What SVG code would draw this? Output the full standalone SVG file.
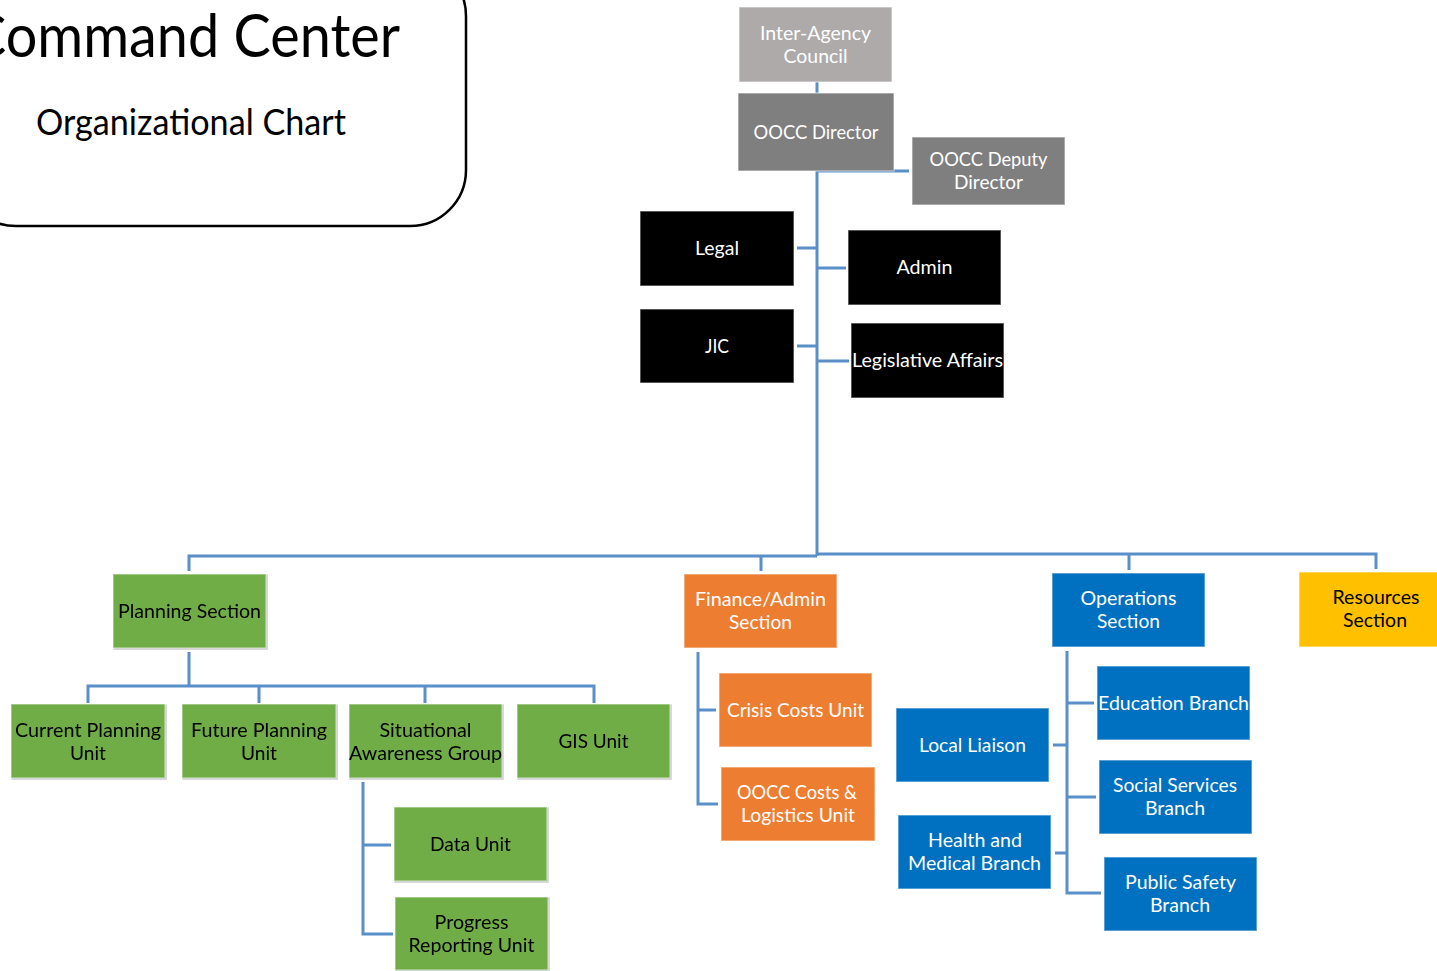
<svg xmlns="http://www.w3.org/2000/svg" width="1437" height="971" viewBox="0 0 1437 971">
<defs>
<style>
.box{stroke:#ffffff;stroke-opacity:0.45;stroke-width:1.5}
.gray1{fill:#ADAAA9}
.gray2{fill:#7F7F7F}
.blk{fill:#000000}
.grn{fill:#70AD47}
.org{fill:#ED7D31}
.blu{fill:#0070C0}
.yel{fill:#FFC000}
.t{font-family:Lato,"Open Sans","Liberation Sans",sans-serif;font-size:19px;text-anchor:middle}
.w{fill:#ffffff}
.k{fill:#000000}
.conn{fill:none;stroke:#5B8FC9;stroke-width:3}
</style>
<filter id="sh" x="-10%" y="-20%" width="120%" height="140%">
<feDropShadow dx="1" dy="1" stdDeviation="0.6" flood-color="#000" flood-opacity="0.45"/>
</filter>
</defs>
<rect width="1437" height="971" fill="#ffffff"/>

<g id="title">
<rect x="-40" y="-40" width="506" height="266" rx="56" ry="56" fill="#ffffff" stroke="#000" stroke-width="2.5"/>
<text x="-31" y="57" font-family="Lato,'Open Sans','Liberation Sans',sans-serif" font-size="60" textLength="431" lengthAdjust="spacingAndGlyphs">Command Center</text>
<text x="36" y="135" font-family="Lato,'Open Sans','Liberation Sans',sans-serif" font-size="37" textLength="310" lengthAdjust="spacingAndGlyphs">Organizational Chart</text>
</g>

<g id="connectors">
<path class="conn" d="M817 82 V556"/>
<path class="conn" d="M817 171 H909"/>
<path class="conn" d="M797 248 H817 M818 268 H846 M797 346 H817 M818 361 H849"/>
<path class="conn" d="M189 571 V556 H817 M817 554 H1376 V569 M761 571 V556 M1129 570 V554"/>
<path class="conn" d="M189 652 V686 M88 703 V686 H594 V703 M259 686 V703 M425 686 V703"/>
<path class="conn" d="M363 782 V934 H393 M363 845 H391"/>
<path class="conn" d="M698 652 V804 H718 M698 710 H716"/>
<path class="conn" d="M1067 651 V893 H1101 M1067 703 H1094 M1053 745 H1067 M1067 797 H1096 M1055 853 H1067"/>
</g>

<g id="inter-agency-council">
<rect class="box gray1" x="739" y="7" width="153" height="75"/>
<text class="t w" x="815.5" y="40" textLength="111" lengthAdjust="spacingAndGlyphs">Inter-Agency</text>
<text class="t w" x="815.5" y="63" textLength="64" lengthAdjust="spacingAndGlyphs">Council</text>
</g>
<g id="oocc-director">
<rect class="box gray2" x="738" y="93" width="156" height="78"/>
<text class="t w" x="816" y="139" textLength="125" lengthAdjust="spacingAndGlyphs">OOCC Director</text>
</g>
<g id="oocc-deputy-director">
<rect class="box gray2" x="912" y="137" width="153" height="68"/>
<text class="t w" x="988.5" y="166" textLength="118" lengthAdjust="spacingAndGlyphs">OOCC Deputy</text>
<text class="t w" x="988.5" y="189" textLength="69" lengthAdjust="spacingAndGlyphs">Director</text>
</g>
<g id="legal">
<rect class="box blk" x="640" y="211" width="154" height="75"/>
<text class="t w" x="717" y="255" textLength="44" lengthAdjust="spacingAndGlyphs">Legal</text>
</g>
<g id="admin">
<rect class="box blk" x="848" y="230" width="153" height="75"/>
<text class="t w" x="924.5" y="274" textLength="56" lengthAdjust="spacingAndGlyphs">Admin</text>
</g>
<g id="jic">
<rect class="box blk" x="640" y="309" width="154" height="74"/>
<text class="t w" x="717" y="353" textLength="24" lengthAdjust="spacingAndGlyphs">JIC</text>
</g>
<g id="legislative-affairs">
<rect class="box blk" x="851" y="323" width="153" height="75"/>
<text class="t w" x="927.5" y="367" textLength="151" lengthAdjust="spacingAndGlyphs">Legislative Affairs</text>
</g>

<g id="planning-section" filter="url(#sh)">
<rect class="box grn" x="113" y="574" width="153" height="74"/>
<text class="t k" x="189.5" y="618" textLength="143" lengthAdjust="spacingAndGlyphs">Planning Section</text>
</g>
<g id="current-planning-unit" filter="url(#sh)">
<rect class="box grn" x="11" y="704" width="154" height="74"/>
<text class="t k" x="88" y="737" textLength="146" lengthAdjust="spacingAndGlyphs">Current Planning</text>
<text class="t k" x="88" y="760" textLength="36" lengthAdjust="spacingAndGlyphs">Unit</text>
</g>
<g id="future-planning-unit" filter="url(#sh)">
<rect class="box grn" x="182" y="704" width="154" height="74"/>
<text class="t k" x="259" y="737" textLength="136" lengthAdjust="spacingAndGlyphs">Future Planning</text>
<text class="t k" x="259" y="760" textLength="36" lengthAdjust="spacingAndGlyphs">Unit</text>
</g>
<g id="situational-awareness-group" filter="url(#sh)">
<rect class="box grn" x="349" y="704" width="153" height="74"/>
<text class="t k" x="425.5" y="737" textLength="92" lengthAdjust="spacingAndGlyphs">Situational</text>
<text class="t k" x="425.5" y="760" textLength="153" lengthAdjust="spacingAndGlyphs">Awareness Group</text>
</g>
<g id="gis-unit" filter="url(#sh)">
<rect class="box grn" x="517" y="704" width="153" height="74"/>
<text class="t k" x="593.5" y="748" textLength="70" lengthAdjust="spacingAndGlyphs">GIS Unit</text>
</g>
<g id="data-unit" filter="url(#sh)">
<rect class="box grn" x="394" y="807" width="153" height="74"/>
<text class="t k" x="470.5" y="851" textLength="81" lengthAdjust="spacingAndGlyphs">Data Unit</text>
</g>
<g id="progress-reporting-unit" filter="url(#sh)">
<rect class="box grn" x="395" y="897" width="153" height="73"/>
<text class="t k" x="471.5" y="929" textLength="74" lengthAdjust="spacingAndGlyphs">Progress</text>
<text class="t k" x="471.5" y="952" textLength="126" lengthAdjust="spacingAndGlyphs">Reporting Unit</text>
</g>

<g id="finance-admin-section">
<rect class="box org" x="684" y="574" width="153" height="74"/>
<text class="t w" x="760.5" y="606" textLength="131" lengthAdjust="spacingAndGlyphs">Finance/Admin</text>
<text class="t w" x="760.5" y="629" textLength="63" lengthAdjust="spacingAndGlyphs">Section</text>
</g>
<g id="crisis-costs-unit">
<rect class="box org" x="719" y="673" width="153" height="74"/>
<text class="t w" x="795.5" y="717" textLength="137" lengthAdjust="spacingAndGlyphs">Crisis Costs Unit</text>
</g>
<g id="oocc-costs-logistics-unit">
<rect class="box org" x="721" y="767" width="154" height="74"/>
<text class="t w" x="797" y="799" textLength="120" lengthAdjust="spacingAndGlyphs">OOCC Costs &amp;</text>
<text class="t w" x="798" y="822" textLength="114" lengthAdjust="spacingAndGlyphs">Logistics Unit</text>
</g>

<g id="operations-section">
<rect class="box blu" x="1052" y="573" width="153" height="74"/>
<text class="t w" x="1128.5" y="605" textLength="96" lengthAdjust="spacingAndGlyphs">Operations</text>
<text class="t w" x="1128.5" y="628" textLength="63" lengthAdjust="spacingAndGlyphs">Section</text>
</g>
<g id="resources-section">
<rect class="box yel" x="1299" y="572" width="150" height="75"/>
<text class="t k" x="1376" y="604" textLength="87" lengthAdjust="spacingAndGlyphs">Resources</text>
<text class="t k" x="1375" y="627" textLength="64" lengthAdjust="spacingAndGlyphs">Section</text>
</g>
<g id="education-branch">
<rect class="box blu" x="1097" y="666" width="153" height="74"/>
<text class="t w" x="1173.5" y="710" textLength="151" lengthAdjust="spacingAndGlyphs">Education Branch</text>
</g>
<g id="local-liaison">
<rect class="box blu" x="896" y="708" width="153" height="74"/>
<text class="t w" x="972.5" y="752" textLength="107" lengthAdjust="spacingAndGlyphs">Local Liaison</text>
</g>
<g id="social-services-branch">
<rect class="box blu" x="1099" y="760" width="153" height="74"/>
<text class="t w" x="1175" y="792" textLength="124" lengthAdjust="spacingAndGlyphs">Social Services</text>
<text class="t w" x="1175" y="815" textLength="60" lengthAdjust="spacingAndGlyphs">Branch</text>
</g>
<g id="health-medical-branch">
<rect class="box blu" x="898" y="815" width="153" height="74"/>
<text class="t w" x="975" y="847" textLength="94" lengthAdjust="spacingAndGlyphs">Health and</text>
<text class="t w" x="974.5" y="870" textLength="133" lengthAdjust="spacingAndGlyphs">Medical Branch</text>
</g>
<g id="public-safety-branch">
<rect class="box blu" x="1104" y="857" width="153" height="74"/>
<text class="t w" x="1180.5" y="889" textLength="111" lengthAdjust="spacingAndGlyphs">Public Safety</text>
<text class="t w" x="1180" y="912" textLength="60" lengthAdjust="spacingAndGlyphs">Branch</text>
</g>
</svg>
